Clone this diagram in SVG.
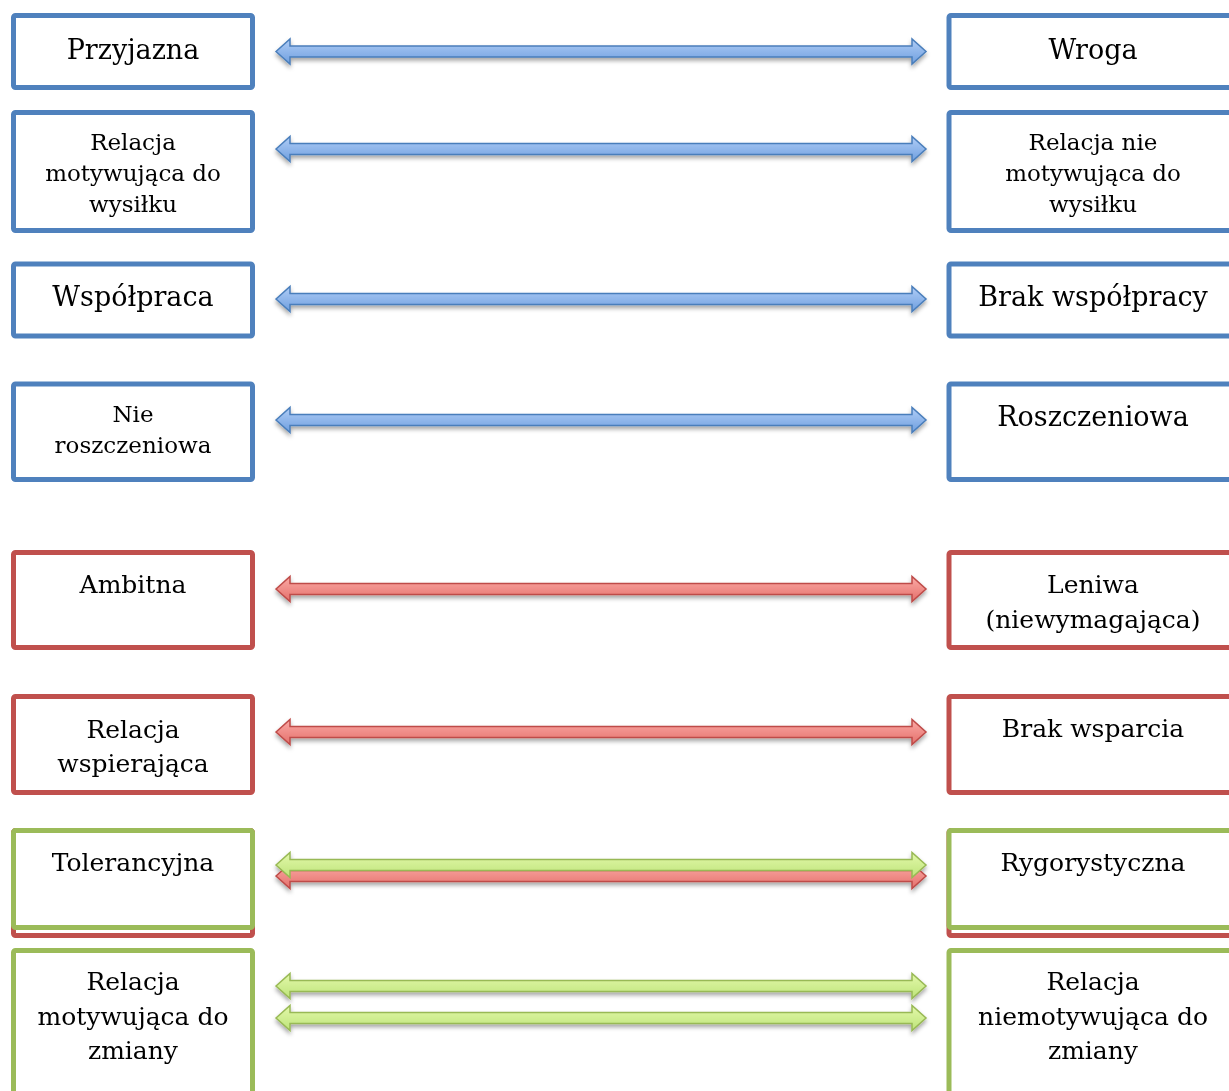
<svg xmlns="http://www.w3.org/2000/svg" xmlns:xlink="http://www.w3.org/1999/xlink" width="1229" height="1091" viewBox="0 0 1229 1091">
  <style>
    .box { fill: #ffffff; stroke-width: 5; }
    .blue { stroke: #4f81bd; }
    .red { stroke: #c0504d; }
    .green { stroke: #9bbb59; }
    text { font-family: "DejaVu Serif", "Liberation Serif", serif; fill: #000000; text-anchor: middle; }
    .lg { font-size: 27px; }
    .md { font-size: 25px; }
    .sm { font-size: 23px; }
    .arr-blue { fill: url(#gBlue); stroke: #4a7ebb; stroke-width: 1.5; }
    .arr-red { fill: url(#gRed); stroke: #be4b48; stroke-width: 1.5; }
    .arr-green { fill: url(#gGreen); stroke: #98b954; stroke-width: 1.5; }
  </style>
  <defs>
    <linearGradient id="gBlue" x1="0" y1="0" x2="0" y2="1">
      <stop offset="0" stop-color="#b0cdf6"/>
      <stop offset="1" stop-color="#6f9fdf"/>
    </linearGradient>
    <linearGradient id="gRed" x1="0" y1="0" x2="0" y2="1">
      <stop offset="0" stop-color="#fbaaa6"/>
      <stop offset="1" stop-color="#e4706b"/>
    </linearGradient>
    <linearGradient id="gGreen" x1="0" y1="0" x2="0" y2="1">
      <stop offset="0" stop-color="#e3f8aa"/>
      <stop offset="1" stop-color="#bde47a"/>
    </linearGradient>
    <filter id="shadow" x="-5%" y="-100%" width="110%" height="300%">
      <feDropShadow dx="0" dy="3" stdDeviation="2" flood-color="#000000" flood-opacity="0.35"/>
    </filter>
    <!-- double-headed block arrow centred on y = 0 -->
    <path id="dblArrow" d="M276,0 L290,-12.5 L290,-5.5 L912,-5.5 L912,-12.5 L926,0 L912,12.5 L912,5.5 L290,5.5 L290,12.5 Z"/>
  </defs>

  <!-- connectors -->
  <g id="connectors" filter="url(#shadow)">
    <use xlink:href="#dblArrow" class="arr-blue" transform="translate(0,51.5)"/>
    <use xlink:href="#dblArrow" class="arr-blue" transform="translate(0,149)"/>
    <use xlink:href="#dblArrow" class="arr-blue" transform="translate(0,299)"/>
    <use xlink:href="#dblArrow" class="arr-blue" transform="translate(0,420)"/>
    <use xlink:href="#dblArrow" class="arr-red" transform="translate(0,589)"/>
    <use xlink:href="#dblArrow" class="arr-red" transform="translate(0,732)"/>
    <use xlink:href="#dblArrow" class="arr-red" transform="translate(0,876)"/>
    <use xlink:href="#dblArrow" class="arr-green" transform="translate(0,865)"/>
    <use xlink:href="#dblArrow" class="arr-green" transform="translate(0,986)"/>
    <use xlink:href="#dblArrow" class="arr-green" transform="translate(0,1018)"/>
  </g>

  <!-- left column -->
  <g id="przyjazna">
    <rect class="box blue" x="13.5" y="15.5" width="239" height="72" rx="2"/>
    <text class="lg" x="133" y="59">Przyjazna</text>
  </g>
  <g id="relacja-motywujaca-wysilek">
    <rect class="box blue" x="13.5" y="112.5" width="239" height="118" rx="2"/>
    <text class="sm" x="133" y="150">Relacja</text>
    <text class="sm" x="133" y="181">motywująca do</text>
    <text class="sm" x="133" y="212">wysiłku</text>
  </g>
  <g id="wspolpraca">
    <rect class="box blue" x="13.5" y="264" width="239" height="72" rx="2"/>
    <text class="lg" x="133" y="306">Współpraca</text>
  </g>
  <g id="nie-roszczeniowa">
    <rect class="box blue" x="13.5" y="384" width="239" height="95.5" rx="2"/>
    <text class="sm" x="133" y="422">Nie</text>
    <text class="sm" x="133" y="453">roszczeniowa</text>
  </g>
  <g id="ambitna">
    <rect class="box red" x="13.5" y="552.5" width="239" height="95" rx="2"/>
    <text class="md" x="133" y="593">Ambitna</text>
  </g>
  <g id="relacja-wspierajaca">
    <rect class="box red" x="13.5" y="696.5" width="239" height="96" rx="2"/>
    <text class="md" x="133" y="738">Relacja</text>
    <text class="md" x="133" y="772">wspierająca</text>
  </g>
  <g id="tolerancyjna">
    <rect class="box red" x="13.5" y="830.5" width="239" height="105" rx="2"/>
    <rect class="box green" x="13.5" y="830.5" width="239" height="97" rx="2"/>
    <text class="md" x="133" y="871">Tolerancyjna</text>
  </g>
  <g id="relacja-motywujaca-zmiana">
    <rect class="box green" x="13.5" y="950.5" width="239" height="160" rx="2"/>
    <text class="md" x="133" y="990">Relacja</text>
    <text class="md" x="133" y="1025">motywująca do</text>
    <text class="md" x="133" y="1059">zmiany</text>
  </g>

  <!-- right column -->
  <g id="wroga">
    <rect class="box blue" x="949" y="15.5" width="300" height="72" rx="2"/>
    <text class="lg" x="1093" y="59">Wroga</text>
  </g>
  <g id="relacja-nie-motywujaca-wysilek">
    <rect class="box blue" x="949" y="112.5" width="300" height="118" rx="2"/>
    <text class="sm" x="1093" y="150">Relacja nie</text>
    <text class="sm" x="1093" y="181">motywująca do</text>
    <text class="sm" x="1093" y="212">wysiłku</text>
  </g>
  <g id="brak-wspolpracy">
    <rect class="box blue" x="949" y="264" width="300" height="72" rx="2"/>
    <text class="lg" x="1093" y="306">Brak współpracy</text>
  </g>
  <g id="roszczeniowa">
    <rect class="box blue" x="949" y="384" width="300" height="95.5" rx="2"/>
    <text class="lg" x="1093" y="426">Roszczeniowa</text>
  </g>
  <g id="leniwa">
    <rect class="box red" x="949" y="552.5" width="300" height="95" rx="2"/>
    <text class="md" x="1093" y="593">Leniwa</text>
    <text class="md" x="1093" y="628">(niewymagająca)</text>
  </g>
  <g id="brak-wsparcia">
    <rect class="box red" x="949" y="696.5" width="300" height="96" rx="2"/>
    <text class="md" x="1093" y="737">Brak wsparcia</text>
  </g>
  <g id="rygorystyczna">
    <rect class="box red" x="949" y="830.5" width="300" height="105" rx="2"/>
    <rect class="box green" x="949" y="830.5" width="300" height="97" rx="2"/>
    <text class="md" x="1093" y="871">Rygorystyczna</text>
  </g>
  <g id="relacja-niemotywujaca-zmiana">
    <rect class="box green" x="949" y="950.5" width="300" height="160" rx="2"/>
    <text class="md" x="1093" y="990">Relacja</text>
    <text class="md" x="1093" y="1025">niemotywująca do</text>
    <text class="md" x="1093" y="1059">zmiany</text>
  </g>
</svg>
